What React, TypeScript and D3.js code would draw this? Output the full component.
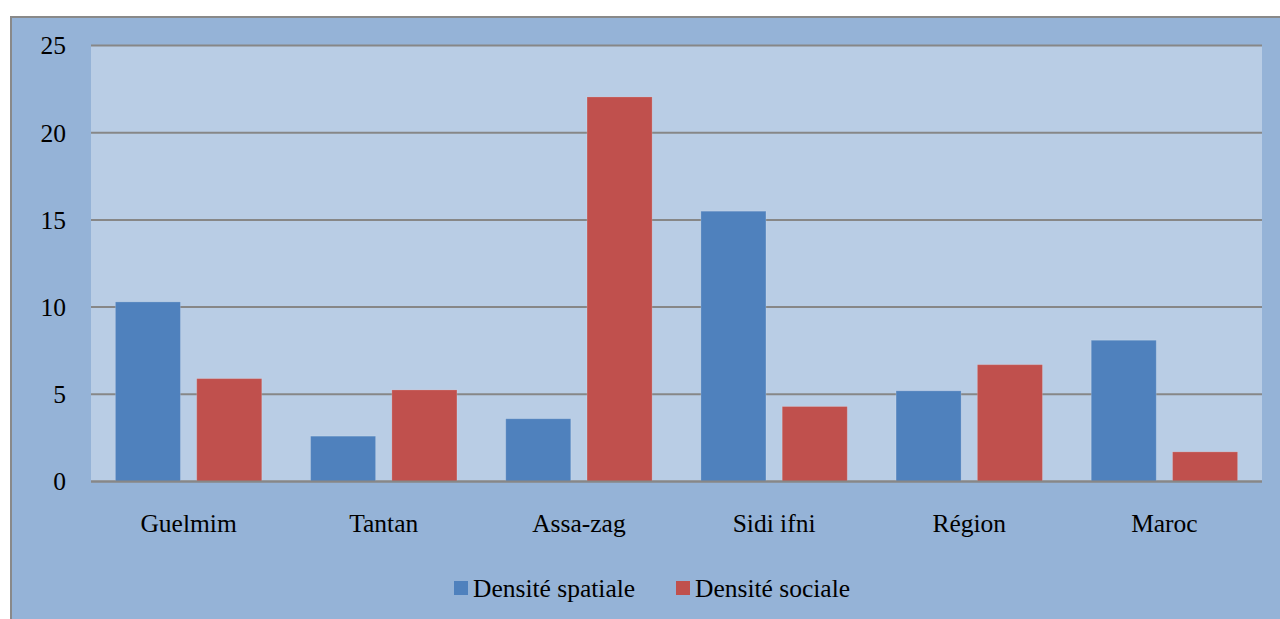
import React from 'react';
import * as d3 from 'd3';

// valeurs
const categories = ['Guelmim', 'Tantan', 'Assa-zag', 'Sidi ifni', 'Région', 'Maroc'];
const seriesNames = ['Densité spatiale', 'Densité sociale'];
const densiteSpatiale = [10.3, 2.6, 3.6, 15.5, 5.2, 8.1];
const densiteSociale = [5.9, 5.25, 22.05, 4.3, 6.7, 1.7];
const yTicks = [0, 5, 10, 15, 20, 25];

const COLORS = ['#4F81BD', '#C0504D'];
const FONT = "'Liberation Serif', serif";

const App: React.FC = () => {
    const width = 1280;
    const height = 619;
    const plot = { left: 91, right: 1262, top: 45.5, bottom: 481.5 };

    const x0 = d3.scaleBand<string>()
        .domain(categories)
        .range([plot.left, plot.right])
        .paddingInner(0.25)
        .paddingOuter(0.125);

    const x1 = d3.scaleBand<string>()
        .domain(seriesNames)
        .range([0, x0.bandwidth()])
        .paddingInner(0.2);

    const y = d3.scaleLinear().domain([0, 25]).range([plot.bottom, plot.top]);

    const series = [densiteSpatiale, densiteSociale];
    const txt = { fontFamily: FONT, fontSize: '25.5px' };

    return (
        <svg width={width} height={height} style={{ position: 'fixed', left: 0, top: 0 }}>
            {/* fond externe */}
            <rect x={0} y={0} width={width} height={height} fill="#ffffff" />
            <rect x={11} y={17} width={width} height={height} fill="#95B3D7" stroke="#898989" strokeWidth={2} />
            {/* zone de tracé */}
            <rect x={plot.left} y={plot.top} width={plot.right - plot.left} height={plot.bottom - plot.top} fill="#B9CDE5" />

            {/* grille */}
            {yTicks.map(t => (
                <line key={t} x1={plot.left} x2={plot.right} y1={y(t)} y2={y(t)} stroke="#878787" strokeWidth={2} />
            ))}

            {/* barres */}
            {categories.map((c, i) => (
                <g key={c} transform={`translate(${x0(c)},0)`}>
                    {seriesNames.map((s, j) => (
                        <rect
                            key={s}
                            x={x1(s)}
                            y={y(series[j][i])}
                            width={x1.bandwidth()}
                            height={y(0) - y(series[j][i])}
                            fill={COLORS[j]}
                            stroke="rgba(255,255,255,0.18)"
                            strokeWidth={1}
                        />
                    ))}
                </g>
            ))}
            <line x1={plot.left} x2={plot.right} y1={y(0)} y2={y(0)} stroke="#878787" strokeWidth={2} />

            {/* axe y */}
            {yTicks.map(t => (
                <text key={t} x={66} y={y(t)} dy="0.35em" textAnchor="end" style={txt} fill="#000">
                    {t}
                </text>
            ))}

            {/* axe x */}
            {categories.map(c => (
                <text key={c} x={x0(c)! + x0.bandwidth() / 2} y={532} textAnchor="middle" style={txt} fill="#000">
                    {c}
                </text>
            ))}

            {/* légende */}
            {seriesNames.map((s, j) => {
                const lx = j === 0 ? 454 : 676;
                return (
                    <g key={s}>
                        <rect x={lx} y={581} width={14} height={14} fill={COLORS[j]} />
                        <text x={lx + 19} y={597} style={txt} fill="#000">{s}</text>
                    </g>
                );
            })}
        </svg>
    );
};

export default App;
